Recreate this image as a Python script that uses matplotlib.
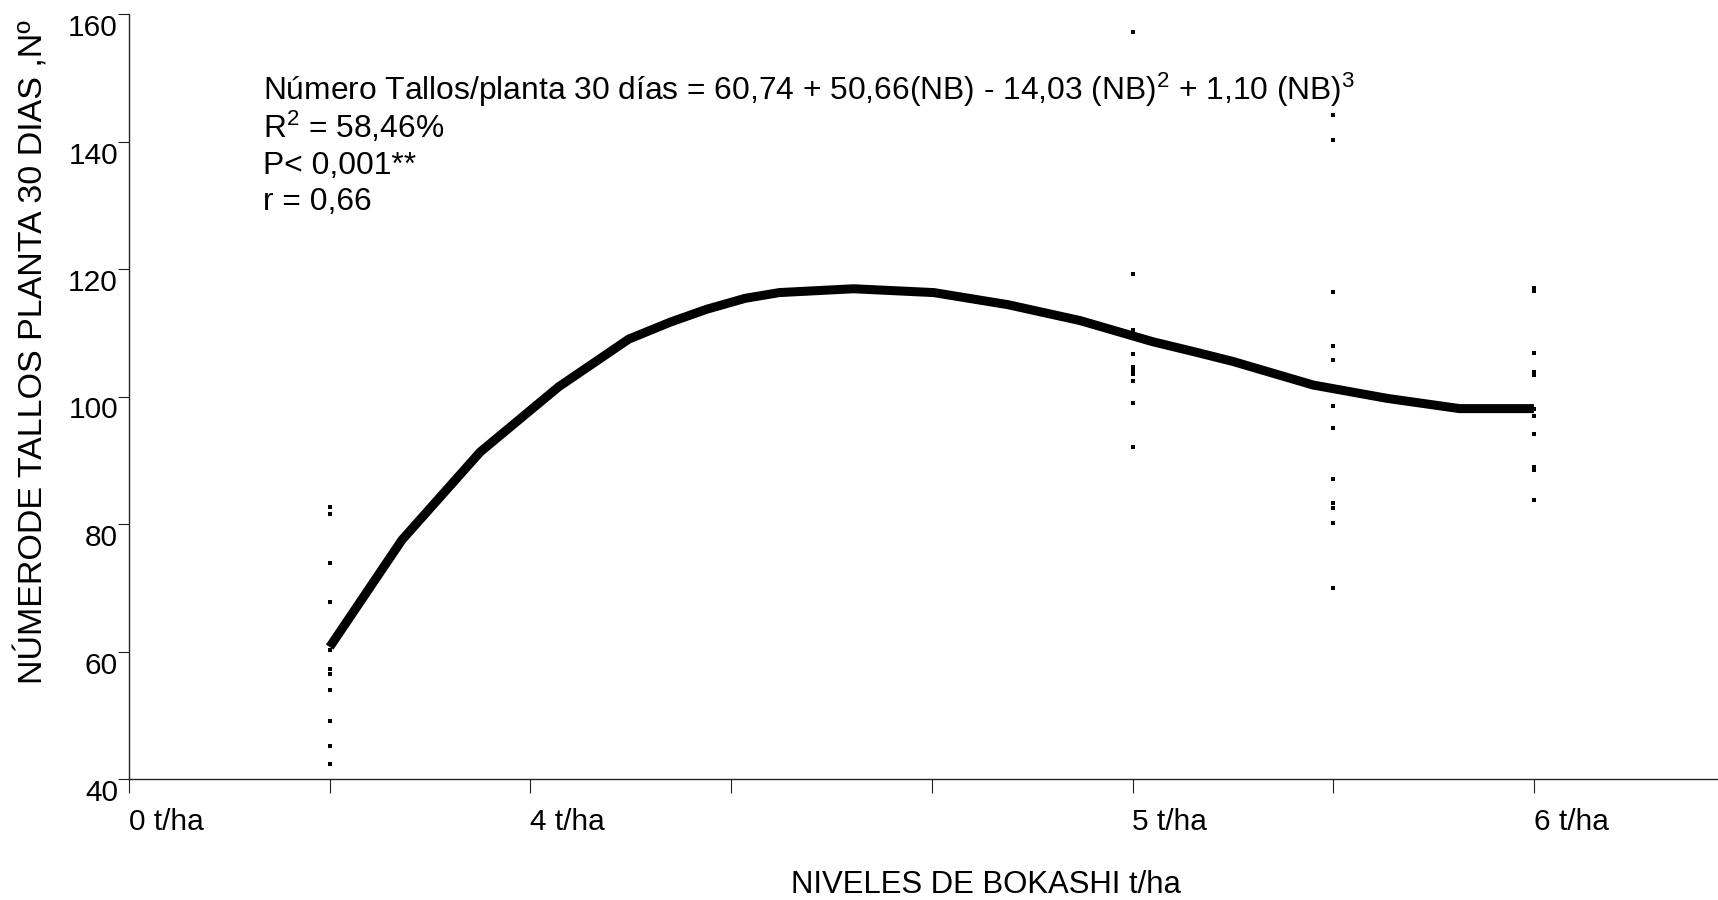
import matplotlib
matplotlib.use("Agg")
import matplotlib.pyplot as plt
from matplotlib.transforms import ScaledTranslation

plt.rcParams["font.family"] = ["Liberation Sans", "DejaVu Sans"]
plt.rcParams["mathtext.fontset"] = "custom"
plt.rcParams["mathtext.rm"] = "Liberation Sans"
plt.rcParams["mathtext.it"] = "Liberation Sans"

# Observed stems per plant at each bokashi level (x position on the axis)
x_level1 = 1
y_level1 = [82.7, 81.6, 73.9, 67.7, 60.3, 57.2, 56.5, 53.9, 49.1, 45.2, 42.3]
x_level5 = 5
y_level5 = [157.1, 119.2, 110.4, 106.6, 104.6, 104.2, 103.5, 102.4, 99.0, 92.1]
x_level6 = 6
y_level6 = [144.2, 140.3, 116.4, 108.0, 105.8, 98.5, 95.1, 87.0, 83.3, 82.5, 80.2, 70.0]
x_level7 = 7
y_level7 = [117.0, 116.6, 106.9, 103.9, 103.3, 98.0, 96.9, 94.1, 89.0, 88.4, 83.8]

# Fitted cubic response curve
fit_x = [1.00, 1.36, 1.75, 2.14, 2.49, 2.70, 2.88, 3.07, 3.24, 3.61, 4.01,
         4.38, 4.74, 5.10, 5.31, 5.50, 5.90, 6.27, 6.63, 7.00]
fit_y = [60.7, 77.5, 91.3, 101.5, 109.0, 111.7, 113.7, 115.4, 116.3, 116.9,
         116.3, 114.4, 111.9, 108.6, 107.0, 105.5, 101.8, 99.7, 98.1, 98.1]

tick_pos = [0, 1, 2, 3, 4, 5, 6, 7]
tick_labels = ["0 t/ha", "", "4 t/ha", "", "", "5 t/ha", "", "6 t/ha"]
y_ticks = [40, 60, 80, 100, 120, 140, 160]

W, H = 1718, 900
fig = plt.figure(figsize=(W / 100, H / 100), dpi=100)
ax = fig.add_axes([129 / W, 1 - 779 / H, 1 - 129 / W, (779 - 14) / H])

for xv, ys in [(x_level1, y_level1), (x_level5, y_level5),
               (x_level6, y_level6), (x_level7, y_level7)]:
    ax.plot([xv] * len(ys), ys, linestyle="none", marker="s", ms=2.3,
            mew=0, color="black", zorder=2)

ax.plot(fit_x, fit_y, color="black", lw=6.5, solid_capstyle="butt",
        solid_joinstyle="round", zorder=3)

ax.set_xlim(0, (W - 129) / 200.7)
ax.set_ylim(40, 160)
for s in ["top", "right"]:
    ax.spines[s].set_visible(False)
for s in ["left", "bottom"]:
    ax.spines[s].set_color("#222222")
    ax.spines[s].set_linewidth(1.0)

ax.set_xticks(tick_pos)
ax.set_xticklabels(tick_labels, ha="left")
ax.set_yticks(y_ticks)
ax.set_yticklabels([str(v) for v in y_ticks])
ax.tick_params(axis="x", direction="out", length=10, width=0.8,
               color="#222222", labelsize=21.5, pad=11)
ax.tick_params(axis="y", direction="out", length=8, width=0.8,
               color="#222222", labelsize=21.5, pad=0)
shift = ScaledTranslation(0, -11 / 100, fig.dpi_scale_trans)
for lab in ax.get_yticklabels():
    lab.set_transform(lab.get_transform() + shift)

fig.text(33 / W, 1 - 352 / H, "NÚMERODE TALLOS PLANTA 30 DIAS ,Nº",
         rotation=90, ha="center", va="center", fontsize=24.5)
fig.text(986 / W, 1 - 885 / H, "NIVELES DE BOKASHI t/ha",
         ha="center", va="center", fontsize=22.4)

lines = [
    "Número Tallos/planta 30 días = 60,74 + 50,66(NB) - 14,03 (NB)$^{2}$ + 1,10 (NB)$^{3}$",
    "R$^{2}$ = 58,46%",
    "P< 0,001**",
    "r = 0,66",
]
baselines = [100, 138, 174, 210]
for txt, b in zip(lines, baselines):
    fig.text(263 / W, 1 - b / H, txt, ha="left", va="baseline", fontsize=22.9)

fig.savefig("out.png", dpi=100)
